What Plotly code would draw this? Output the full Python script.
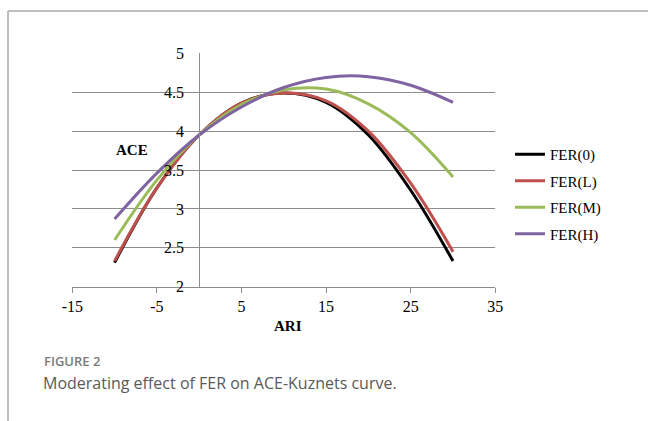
import plotly.graph_objects as go

ari = [-10, -5, 0, 5, 10, 15, 20, 25, 30]
fer_0 = [2.31, 3.27, 3.95, 4.36, 4.49, 4.37, 3.95, 3.24, 2.33]
fer_l = [2.33, 3.27, 3.95, 4.36, 4.49, 4.39, 4.00, 3.33, 2.45]
fer_m = [2.60, 3.37, 3.95, 4.34, 4.53, 4.54, 4.35, 3.98, 3.41]
fer_h = [2.87, 3.46, 3.95, 4.31, 4.56, 4.69, 4.70, 4.59, 4.37]

series_names = ["FER(0)", "FER(L)", "FER(M)", "FER(H)"]
series_values = [fer_0, fer_l, fer_m, fer_h]
series_colors = ["#000000", "#c0504d", "#9bbb59", "#8064a2"]

x_ticks = [-15, -5, 5, 15, 25, 35]
x_tick_labels = ["-15", "-5", "5", "15", "25", "35"]
y_ticks = [2, 2.5, 3, 3.5, 4, 4.5, 5]
y_tick_labels = ["2", "2.5", "3", "3.5", "4", "4.5", "5"]

W, H = 648, 421
serif = "Liberation Serif"
sans = "Open Sans"

fig = go.Figure()
for i, (name, vals, col) in enumerate(zip(series_names, series_values, series_colors)):
    fig.add_trace(go.Scatter(
        x=ari, y=vals, name=name, mode="lines",
        line=dict(color=col, width=3, shape="spline", smoothing=1.0),
        legendgroup=str(i),
    ))

px_x0, px_x1 = 72.3, 495.3
px_ytop, px_ybot = 53.3, 286.7
fig.update_layout(
    width=W, height=H,
    autosize=False,
    margin=dict(l=0, r=0, t=0, b=0, pad=0),
    paper_bgcolor="white", plot_bgcolor="white",
    showlegend=True,
    legend=dict(
        x=510 / W, y=1 - 138 / H, xanchor="left", yanchor="top",
        font=dict(family=serif, size=15, color="#000"),
        tracegroupgap=4, bgcolor="rgba(0,0,0,0)",
    ),
    xaxis=dict(
        domain=[px_x0 / W, px_x1 / W],
        range=[-15, 35], tickvals=x_ticks, ticktext=x_tick_labels,
        showgrid=False, zeroline=False, automargin=False,
        showline=True, linecolor="#8c8c8c", linewidth=1,
        ticks="outside", ticklen=5, tickcolor="#8c8c8c",
        ticklabelstandoff=0,
        tickfont=dict(family=serif, size=16, color="#000"),
    ),
    yaxis=dict(
        domain=[1 - px_ybot / H, 1 - px_ytop / H],
        range=[2, 5], tickvals=y_ticks, ticktext=y_tick_labels,
        anchor="free", position=(px_x0 + 15 * (px_x1 - px_x0) / 50) / W,
        showgrid=True, gridcolor="#8c8c8c", gridwidth=1,
        zeroline=False, automargin=False,
        showline=True, linecolor="#8c8c8c", linewidth=1,
        ticks="", ticklabelstandoff=12,
        tickfont=dict(family=serif, size=16, color="#000"),
    ),
    annotations=[
        dict(text="<b>ACE</b>", x=132 / W, y=1 - 150 / H, xref="paper", yref="paper",
             xanchor="center", yanchor="middle",
             showarrow=False, font=dict(family=serif, size=15, color="#000")),
        dict(text="<b>ARI</b>", x=288 / W, y=1 - 326 / H, xref="paper", yref="paper",
             xanchor="center", yanchor="middle",
             showarrow=False, font=dict(family=serif, size=15, color="#000")),
        dict(text="FIGURE 2", x=42 / W, y=1 - 361 / H, xref="paper", yref="paper",
             xanchor="left", yanchor="middle", showarrow=False,
             font=dict(family=sans, size=13, color="#7a7a7a", weight=600)),
        dict(text="Moderating effect of FER on ACE-Kuznets curve.", x=41 / W, y=1 - 383 / H,
             xref="paper", yref="paper", xanchor="left", yanchor="middle", showarrow=False,
             font=dict(family=sans, size=16, color="#5a5a5a")),
    ],
    shapes=[
        dict(type="line", xref="paper", yref="paper", x0=8 / W, x1=1.0,
             y0=1 - 11 / H, y1=1 - 11 / H, line=dict(color="#bdbdbd", width=2)),
        dict(type="line", xref="paper", yref="paper", x0=8 / W, x1=8 / W,
             y0=0, y1=1 - 11 / H, line=dict(color="#bdbdbd", width=2)),
    ],
)

fig.write_html(
    "out.html",
    include_plotlyjs=True,
    config={"responsive": False, "displayModeBar": False},
    post_script="document.body.style.margin='0';document.body.style.overflow='hidden';",
)
